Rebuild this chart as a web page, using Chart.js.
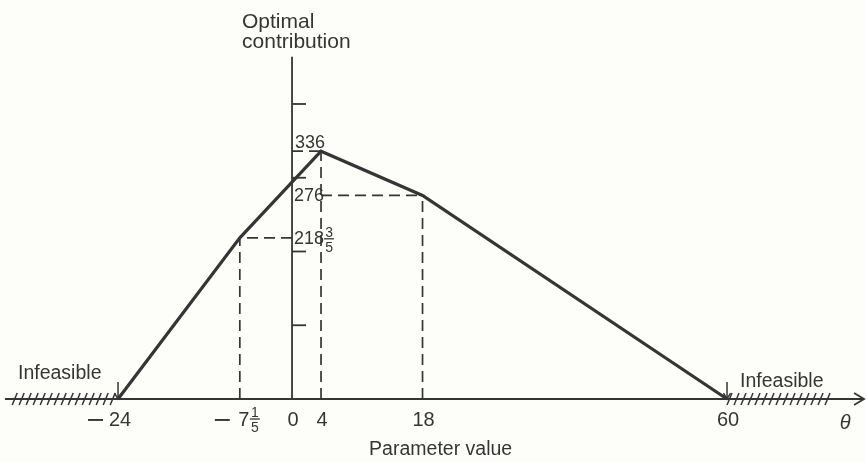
<!DOCTYPE html>
<html><head><meta charset="utf-8">
<script src="https://cdn.jsdelivr.net/npm/chart.js@4.4.1/dist/chart.umd.min.js"></script>
<style>html,body{margin:0;padding:0;background:#fdfdfa;}#wrap{width:866px;height:462px;}</style>
</head><body><div id="wrap"><canvas id="c" width="866" height="462"></canvas></div>
<script>
// Parametric analysis: optimal contribution vs parameter value theta
const paramValues   = [-24, -7.2, 4, 18, 60];
const contributions = [0, 218.6, 336, 276, 0];
// where each horizontal dashed guide starts (x), null = no guide
const guideFromX    = [null, 0, 0, 4, null];
const yAxisTicks    = [100, 200, 300, 400];
const yAxisTop      = 464;
const xAxisRange    = [-39.6, 78.9];
const infeasibleLeft  = [-38.6, -24];
const infeasibleRight = [60, 74.3];
const yValueLabels  = [
  {v: 336,   whole: '336'},
  {v: 276,   whole: '276'},
  {v: 218.6, whole: '218', num: '3', den: '5'}
];
const xTickLabels = [
  {v: -24,  minus: true, whole: '24'},
  {v: -7.2, minus: true, whole: '7', num: '1', den: '5'},
  {v: 0,    whole: '0'},
  {v: 4,    whole: '4'},
  {v: 18,   whole: '18'},
  {v: 60,   whole: '60'}
];

const INK = '#353535';
const FONT = "'Liberation Sans', Arial, Helvetica, sans-serif";

const datasets = [];
datasets.push({
  data: paramValues.map((x, i) => ({x, y: contributions[i]})),
  borderColor: INK, borderWidth: 3.2, pointRadius: 0, showLine: true, order: 0,
  borderJoinStyle: 'miter', tension: 0
});
paramValues.forEach((x, i) => {
  if (guideFromX[i] === null) return;
  const y = contributions[i];
  datasets.push({
    data: [{x, y: 0}, {x, y}],
    borderColor: INK, borderWidth: 1.7, borderDash: [11, 6], pointRadius: 0, showLine: true, order: 1
  });
  datasets.push({
    data: [{x: guideFromX[i], y}, {x, y}],
    borderColor: INK, borderWidth: 1.7, borderDash: [11, 6], pointRadius: 0, showLine: true, order: 1
  });
});

function frac(ctx, num, den, cx, mid, size) {
  ctx.save();
  ctx.font = size + 'px ' + FONT;
  ctx.textAlign = 'center';
  ctx.textBaseline = 'alphabetic';
  ctx.fillText(num, cx, mid - 2);
  ctx.textBaseline = 'top';
  ctx.fillText(den, cx, mid + 2);
  ctx.lineWidth = 1.3;
  ctx.beginPath();
  ctx.moveTo(cx - 5, mid); ctx.lineTo(cx + 5, mid);
  ctx.stroke();
  ctx.restore();
}

const deco = {
  id: 'deco',
  beforeDraw(chart) {
    const ctx = chart.ctx;
    ctx.save();
    ctx.fillStyle = '#fdfdfa';
    ctx.fillRect(0, 0, chart.width, chart.height);
    ctx.restore();
  },
  beforeDatasetsDraw(chart) {
    const ctx = chart.ctx, xs = chart.scales.x, ys = chart.scales.y;
    const X = v => xs.getPixelForValue(v), Y = v => ys.getPixelForValue(v);
    const base = Y(0), x0 = X(0);
    ctx.save();
    ctx.strokeStyle = INK;
    ctx.lineWidth = 1.8;
    // x axis with arrow
    const xa = X(xAxisRange[0]), xb = X(xAxisRange[1]);
    ctx.beginPath(); ctx.moveTo(xa, base); ctx.lineTo(xb, base); ctx.stroke();
    ctx.beginPath(); ctx.moveTo(xb - 10, base - 6); ctx.lineTo(xb, base); ctx.lineTo(xb - 10, base + 6); ctx.stroke();
    // y axis
    ctx.beginPath(); ctx.moveTo(x0, base); ctx.lineTo(x0, Y(yAxisTop)); ctx.stroke();
    // y ticks
    yAxisTicks.forEach(t => {
      ctx.beginPath(); ctx.moveTo(x0, Y(t)); ctx.lineTo(x0 + 14, Y(t)); ctx.stroke();
    });
    // hatching
    ctx.lineWidth = 1.5;
    [infeasibleLeft, infeasibleRight].forEach(r => {
      const a = X(r[0]), b = X(r[1]);
      for (let p = a; p <= b - 4; p += 7) {
        ctx.beginPath(); ctx.moveTo(p, base + 6); ctx.lineTo(p + 5, base - 6); ctx.stroke();
      }
    });
    // small arrows at boundaries
    ctx.lineWidth = 1.5;
    [paramValues[0], paramValues[paramValues.length - 1]].forEach(v => {
      const p = X(v);
      ctx.beginPath(); ctx.moveTo(p, base - 17); ctx.lineTo(p, base); ctx.stroke();
      ctx.beginPath(); ctx.moveTo(p - 3.5, base - 6); ctx.lineTo(p, base); ctx.lineTo(p + 3.5, base - 6); ctx.stroke();
    });
    ctx.restore();
  },
  afterDatasetsDraw(chart) {
    const ctx = chart.ctx, xs = chart.scales.x, ys = chart.scales.y;
    const X = v => xs.getPixelForValue(v), Y = v => ys.getPixelForValue(v);
    const base = Y(0), x0 = X(0);
    ctx.save();
    ctx.fillStyle = INK; ctx.strokeStyle = INK;
    // y title
    ctx.font = '21px ' + FONT;
    ctx.textAlign = 'left'; ctx.textBaseline = 'alphabetic';
    ctx.fillText('Optimal', x0 - 50, 28);
    ctx.fillText('contribution', x0 - 50, 48);
    // value labels near y axis
    ctx.font = '18px ' + FONT;
    yValueLabels.forEach((l, i) => {
      const y = Y(l.v);
      if (i === 0) {
        ctx.textBaseline = 'alphabetic';
        ctx.fillText(l.whole, x0 + 3, y - 3);
      } else {
        ctx.textBaseline = 'middle';
        ctx.fillText(l.whole, x0 + 2, y + 1);
      }
      if (l.num) frac(ctx, l.num, l.den, X(4) + 8, y + 1, 14);
    });
    // x tick labels
    ctx.font = '20px ' + FONT;
    ctx.textBaseline = 'alphabetic';
    const tb = base + 27;
    xTickLabels.forEach(l => {
      const p = X(l.v);
      ctx.textAlign = 'center';
      if (l.minus) {
        const cx = l.num ? p + 4 : p + 2;
        ctx.fillText(l.whole, cx, tb);
        ctx.fillRect(cx - (l.num ? 29 : 32), tb - 7, 15, 1.9);
        if (l.num) frac(ctx, l.num, l.den, cx + 11, tb - 7, 14);
      } else {
        ctx.fillText(l.whole, p + 1, tb);
      }
    });
    // axis title
    ctx.textAlign = 'center';
    ctx.font = '19.5px ' + FONT;
    ctx.fillText('Parameter value', X(20.5), base + 56);
    ctx.font = 'italic 20px ' + FONT;
    ctx.fillText('\u03b8', X(76.3), tb + 3);
    // infeasible labels
    ctx.font = '19.5px ' + FONT;
    ctx.textAlign = 'left';
    ctx.fillText('Infeasible', 18, base - 20);
    ctx.fillText('Infeasible', X(61.8), base - 12);
    ctx.restore();
  }
};

new Chart(document.getElementById('c'), {
  type: 'scatter',
  data: {datasets},
  options: {
    responsive: false, animation: false, devicePixelRatio: 1,
    layout: {padding: 0},
    plugins: {legend: {display: false}, tooltip: {enabled: false}},
    scales: {
      x: {type: 'linear', display: false, min: -40.28, max: 79.17},
      y: {type: 'linear', display: false, min: -85.4, max: 541}
    }
  },
  plugins: [deco]
});
</script></body></html>
